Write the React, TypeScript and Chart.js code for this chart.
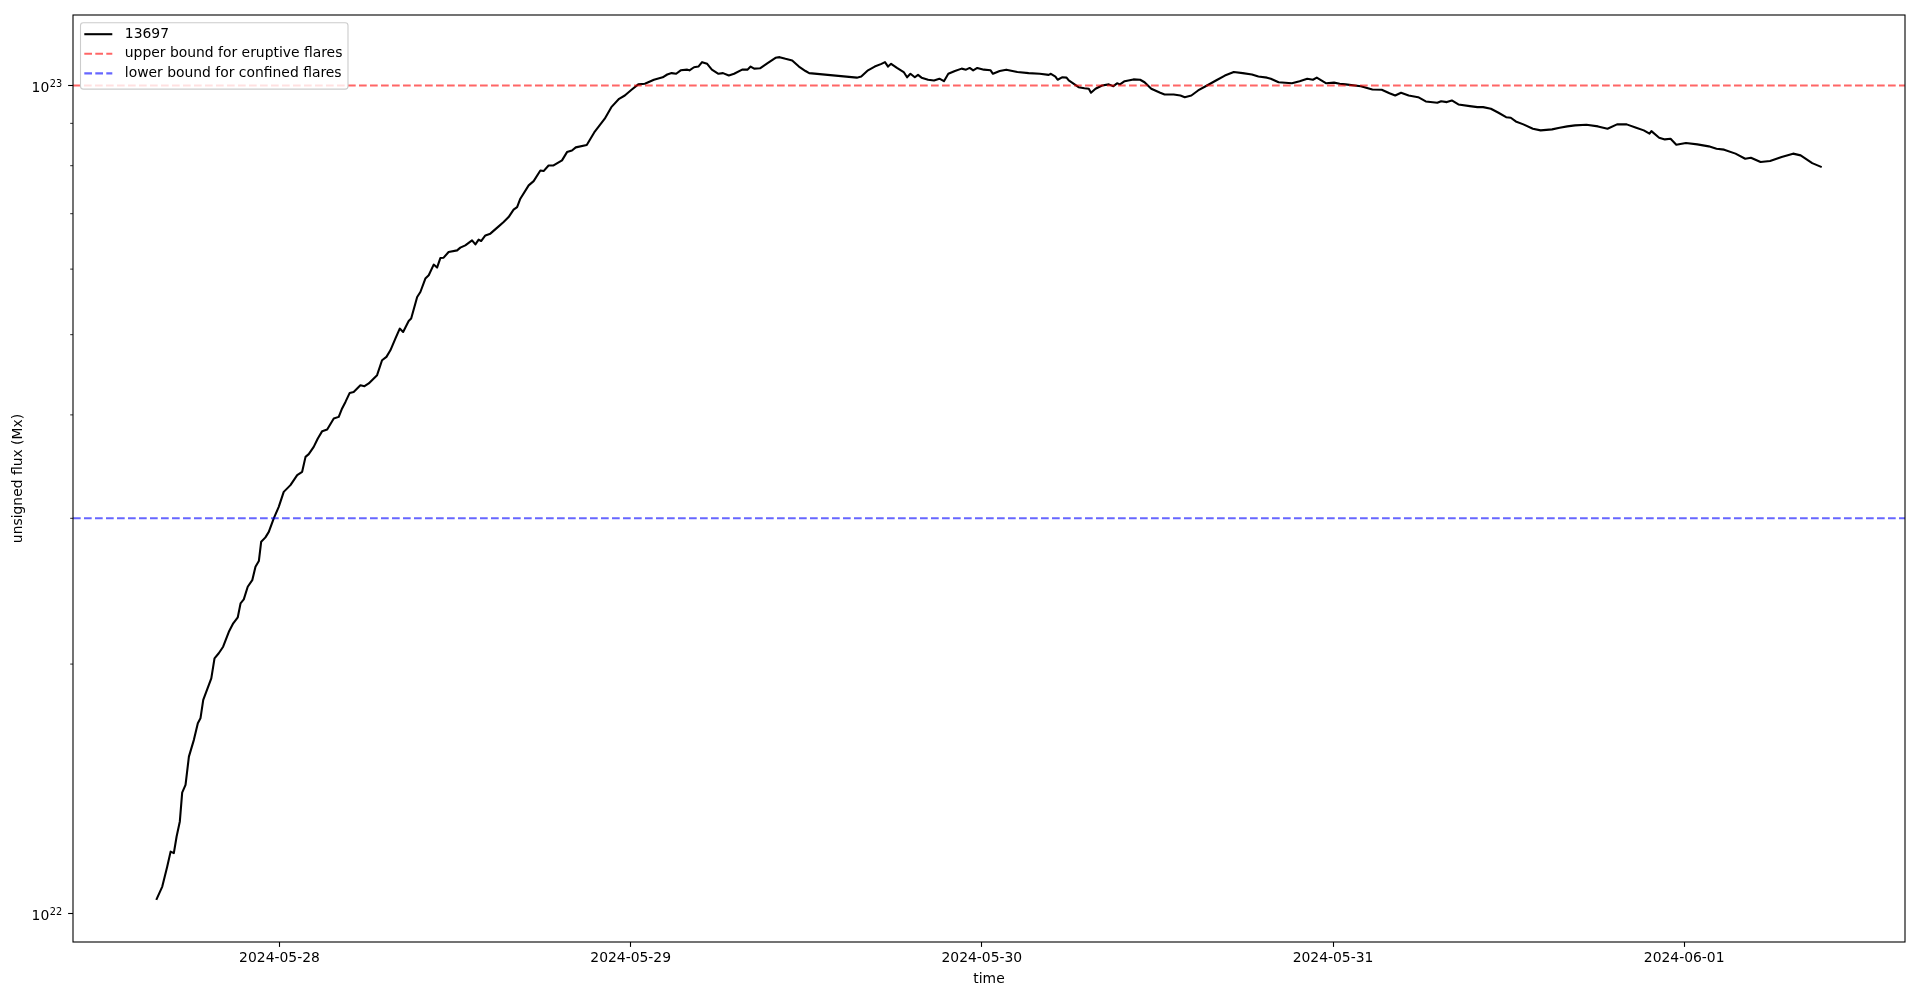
import React, { useEffect, useRef } from 'react';
import { Chart, registerables } from 'chart.js';

Chart.register(...registerables);

const FONT_FAMILY = "'DejaVu Sans', sans-serif";
const FONT_SIZE = 13.9;

// ---- data ----
const seriesLabel = '13697';
const upperLabel = 'upper bound for eruptive flares';
const lowerLabel = 'lower bound for confined flares';
const upperBound = 1e23;
const lowerBound = 3e22;

// time of each sample, hours since 2024-05-28 00:00
const hoursSince0528 = [
  -8.42, -8.01, -7.67, -7.44, -7.22, -7.03, -6.81, -6.65, -6.42, -6.19,
  -5.85, -5.58, -5.40, -5.21, -4.66, -4.44, -4.15, -3.85, -3.46, -3.16,
  -2.85, -2.66, -2.44, -2.17, -1.86, -1.64, -1.41, -1.25, -0.96, -0.73,
  -0.39, -0.05, 0.29, 0.75, 1.21, 1.55, 1.78, 2.00, 2.34, 2.62,
  2.92, 3.26, 3.71, 4.05, 4.28, 4.51, 4.80, 5.07, 5.53, 5.81,
  6.10, 6.67, 7.01, 7.31, 7.58, 7.92, 8.22, 8.45, 8.83, 9.00,
  9.41, 9.63, 9.97, 10.20, 10.54, 10.77, 11.00, 11.22, 11.56, 12.14,
  12.36, 12.70, 13.16, 13.39, 13.61, 13.78, 14.07, 14.41, 14.98, 15.32,
  15.66, 16.00, 16.24, 16.46, 17.03, 17.37, 17.83, 18.05, 18.39, 18.73,
  19.31, 19.65, 19.99, 20.25, 21.00, 21.51, 22.23, 22.68, 23.21, 23.60,
  24.06, 24.52, 24.97, 25.59, 26.19, 26.50, 26.80, 27.11, 27.42, 27.87,
  28.02, 28.33, 28.63, 28.88, 29.23, 29.55, 30.00, 30.31, 30.71, 31.07,
  31.62, 31.98, 32.20, 32.44, 32.84, 33.36, 33.90, 34.18, 34.58, 35.04,
  35.50, 35.95, 36.20, 39.46, 39.76, 40.22, 40.68, 41.14, 41.38, 41.59,
  41.80, 42.20, 42.66, 42.89, 43.12, 43.42, 43.64, 43.88, 44.33, 44.73,
  45.10, 45.41, 45.71, 46.16, 46.62, 46.92, 47.17, 47.41, 47.69, 48.14,
  48.60, 48.76, 49.22, 49.67, 50.43, 51.20, 51.96, 52.57, 52.72, 53.03,
  53.18, 53.48, 53.79, 53.94, 54.24, 54.61, 55.01, 55.31, 55.46, 55.77,
  56.22, 56.68, 56.99, 57.24, 57.44, 57.76, 58.36, 58.82, 59.12, 59.58,
  60.19, 60.49, 61.11, 61.57, 61.87, 62.32, 62.78, 63.39, 64.00, 64.61,
  65.22, 65.83, 66.46, 66.90, 67.49, 67.75, 68.28, 69.19, 69.72, 70.24,
  70.63, 70.89, 71.54, 72.07, 72.46, 72.86, 73.90, 74.69, 75.33, 75.86,
  76.25, 76.65, 77.17, 77.82, 78.34, 79.13, 79.39, 79.78, 80.12, 80.57,
  81.35, 81.87, 82.26, 82.79, 83.31, 83.83, 84.15, 84.49, 85.01, 85.66,
  86.19, 86.97, 87.49, 88.01, 88.54, 89.32, 90.11, 90.76, 91.41, 92.07,
  92.72, 93.24, 93.63, 93.76, 94.29, 94.68, 95.07, 95.46, 96.12, 96.90,
  97.68, 98.21, 98.73, 99.51, 100.17, 100.56, 101.22, 101.87, 102.66, 103.44,
  103.96, 104.75, 105.40,
];

// unsigned flux, in units of 1e22 Mx
const fluxE22 = [
  1.038, 1.077, 1.139, 1.187, 1.182, 1.238, 1.291, 1.399, 1.429, 1.546,
  1.620, 1.697, 1.720, 1.810, 1.922, 2.032, 2.061, 2.099, 2.188, 2.240,
  2.278, 2.368, 2.394, 2.480, 2.526, 2.622, 2.664, 2.811, 2.845, 2.889,
  2.999, 3.097, 3.229, 3.290, 3.383, 3.414, 3.559, 3.586, 3.659, 3.746,
  3.823, 3.841, 3.960, 3.978, 4.072, 4.147, 4.252, 4.264, 4.344, 4.332,
  4.365, 4.467, 4.657, 4.700, 4.787, 4.946, 5.085, 5.037, 5.194, 5.229,
  5.553, 5.630, 5.844, 5.898, 6.076, 6.026, 6.189, 6.194, 6.292, 6.321,
  6.369, 6.410, 6.500, 6.428, 6.513, 6.488, 6.590, 6.622, 6.758, 6.839,
  6.934, 7.079, 7.130, 7.298, 7.573, 7.664, 7.895, 7.881, 8.005, 8.005,
  8.119, 8.308, 8.346, 8.418, 8.476, 8.776, 9.117, 9.415, 9.636, 9.725,
  9.881, 10.03, 10.05, 10.16, 10.23, 10.31, 10.35, 10.33, 10.43, 10.45,
  10.43, 10.52, 10.54, 10.67, 10.62, 10.45, 10.33, 10.35, 10.28, 10.33,
  10.45, 10.45, 10.54, 10.48, 10.49, 10.64, 10.80, 10.82, 10.77, 10.72,
  10.54, 10.41, 10.35, 10.22, 10.25, 10.43, 10.54, 10.62, 10.67, 10.54,
  10.62, 10.50, 10.38, 10.23, 10.33, 10.23, 10.30, 10.22, 10.16, 10.14,
  10.19, 10.12, 10.33, 10.41, 10.48, 10.45, 10.50, 10.43, 10.50, 10.45,
  10.43, 10.33, 10.41, 10.45, 10.38, 10.35, 10.33, 10.30, 10.33, 10.25,
  10.16, 10.23, 10.22, 10.14, 10.06, 9.953, 9.925, 9.908, 9.799, 9.908,
  10.00, 10.03, 9.98, 10.06, 10.03, 10.12, 10.17, 10.16, 10.09, 9.908,
  9.799, 9.752, 9.752, 9.725, 9.680, 9.725, 9.862, 10.00, 10.14, 10.28,
  10.38, 10.35, 10.31, 10.25, 10.22, 10.19, 10.09, 10.06, 10.12, 10.19,
  10.16, 10.22, 10.06, 10.08, 10.05, 10.03, 9.98, 9.889, 9.881, 9.788,
  9.725, 9.799, 9.725, 9.680, 9.565, 9.530, 9.572, 9.548, 9.592, 9.486,
  9.441, 9.415, 9.415, 9.374, 9.269, 9.156, 9.142, 9.048, 8.974, 8.867,
  8.826, 8.850, 8.891, 8.924, 8.949, 8.967, 8.924, 8.867, 8.974, 8.974,
  8.891, 8.826, 8.745, 8.808, 8.648, 8.607, 8.621, 8.481, 8.520, 8.489,
  8.442, 8.388, 8.365, 8.273, 8.157, 8.180, 8.081, 8.104, 8.196, 8.273,
  8.233, 8.058, 7.969,
];

const dateTickHours = [0, 24, 48, 72, 96];
const dateTickLabels = ['2024-05-28', '2024-05-29', '2024-05-30', '2024-05-31', '2024-06-01'];
const yMajorTicks = [1e22, 1e23];
const yMajorBase = ['10', '10'];
const yMajorExponent = ['22', '23'];
const yMinorTicks = [2e22, 3e22, 4e22, 5e22, 6e22, 7e22, 8e22, 9e22];

// ---- axis limits (matplotlib-like 5% margins) ----
const nPts = Math.min(hoursSince0528.length, fluxE22.length);
const xFirst = hoursSince0528[0];
const xLast = hoursSince0528[nPts - 1];
const xSpan = xLast - xFirst;
const X_MIN = xFirst - 0.05 * xSpan;
const X_MAX = xLast + 0.05 * xSpan;
const allY = fluxE22.slice(0, nPts).map((v) => v * 1e22).concat([upperBound, lowerBound]);
const logLo = Math.log10(Math.min(...allY));
const logHi = Math.log10(Math.max(...allY));
const logSpan = logHi - logLo;
const Y_MIN = Math.pow(10, logLo - 0.05 * logSpan);
const Y_MAX = Math.pow(10, logHi + 0.05 * logSpan);

const LW = 2.08;
const DASH = [7.7, 3.3];

const framePlugin = {
  id: 'mplFrame',
  afterDatasetsDraw(chart: any) {
    const { ctx, chartArea: a } = chart;
    const ys = chart.scales.y;
    ctx.save();
    // minor ticks on log axis
    ctx.strokeStyle = '#000';
    ctx.lineWidth = 0.83;
    for (const v of yMinorTicks) {
      const p = ys.getPixelForValue(v);
      if (p < a.top || p > a.bottom) continue;
      ctx.beginPath();
      ctx.moveTo(a.left - 2.8, p);
      ctx.lineTo(a.left, p);
      ctx.stroke();
    }
    // axes frame
    ctx.lineWidth = 1.1;
    ctx.strokeRect(a.left, a.top, a.right - a.left, a.bottom - a.top);

    // y major tick labels in mathtext style: 10 with superscript exponent
    const supSize = FONT_SIZE * 0.7;
    const rightX = a.left - 4.9 - 6;
    ctx.fillStyle = '#000';
    ctx.textBaseline = 'alphabetic';
    ctx.textAlign = 'left';
    yMajorTicks.forEach((v, i) => {
      const p = ys.getPixelForValue(v);
      ctx.font = `${supSize}px ${FONT_FAMILY}`;
      const wSup = ctx.measureText(yMajorExponent[i]).width;
      ctx.font = `${FONT_SIZE}px ${FONT_FAMILY}`;
      const wBase = ctx.measureText(yMajorBase[i]).width;
      const x0 = rightX - wSup - wBase - 0.5;
      ctx.fillText(yMajorBase[i], x0, p + 6.6);
      ctx.font = `${supSize}px ${FONT_FAMILY}`;
      ctx.fillText(yMajorExponent[i], x0 + wBase + 0.5, p + 1.6);
    });
    ctx.restore();
  },
};

const legendPlugin = {
  id: 'mplLegend',
  afterDraw(chart: any) {
    const { ctx, chartArea: a } = chart;
    const ds = chart.data.datasets;
    ctx.save();
    ctx.font = `${FONT_SIZE}px ${FONT_FAMILY}`;
    let maxW = 0;
    for (const d of ds) maxW = Math.max(maxW, ctx.measureText(d.label).width);
    const bx = a.left + 7.5;
    const by = a.top + 7.8;
    const textX = bx + 44.3;
    const bw = textX - bx + maxW + 5.6;
    const bh = 66.3;
    const r = 2.8;
    ctx.beginPath();
    ctx.moveTo(bx + r, by);
    ctx.lineTo(bx + bw - r, by);
    ctx.quadraticCurveTo(bx + bw, by, bx + bw, by + r);
    ctx.lineTo(bx + bw, by + bh - r);
    ctx.quadraticCurveTo(bx + bw, by + bh, bx + bw - r, by + bh);
    ctx.lineTo(bx + r, by + bh);
    ctx.quadraticCurveTo(bx, by + bh, bx, by + bh - r);
    ctx.lineTo(bx, by + r);
    ctx.quadraticCurveTo(bx, by, bx + r, by);
    ctx.closePath();
    ctx.fillStyle = 'rgba(255,255,255,0.8)';
    ctx.fill();
    ctx.strokeStyle = '#cccccc';
    ctx.lineWidth = 1.1;
    ctx.stroke();
    ds.forEach((d: any, i: number) => {
      const cy = by + 11.4 + i * 19.6;
      ctx.beginPath();
      ctx.strokeStyle = d.borderColor;
      ctx.lineWidth = d.borderWidth;
      ctx.setLineDash(d.borderDash || []);
      ctx.moveTo(bx + 3.8, cy);
      ctx.lineTo(bx + 31.8, cy);
      ctx.stroke();
      ctx.setLineDash([]);
      ctx.fillStyle = '#000';
      ctx.textAlign = 'left';
      ctx.textBaseline = 'middle';
      ctx.fillText(d.label, textX, cy);
    });
    ctx.restore();
  },
};

export default function App() {
  const ref = useRef<HTMLCanvasElement>(null);

  useEffect(() => {
    const canvas = ref.current;
    if (!canvas) return;
    Chart.defaults.font.family = FONT_FAMILY;
    Chart.defaults.font.size = FONT_SIZE;
    Chart.defaults.color = '#000';

    const fluxPoints = [];
    for (let i = 0; i < nPts; i++) fluxPoints.push({ x: hoursSince0528[i], y: fluxE22[i] * 1e22 });

    const chart = new Chart(canvas, {
      type: 'line',
      data: {
        datasets: [
          {
            label: seriesLabel,
            data: fluxPoints,
            borderColor: '#000000',
            borderWidth: LW,
            pointRadius: 0,
            tension: 0,
            borderJoinStyle: 'round',
            fill: false,
            order: 1,
          },
          {
            label: upperLabel,
            data: [{ x: X_MIN, y: upperBound }, { x: X_MAX, y: upperBound }],
            borderColor: 'rgba(255,0,0,0.6)',
            borderWidth: LW,
            borderDash: DASH,
            pointRadius: 0,
            fill: false,
            order: 0,
          },
          {
            label: lowerLabel,
            data: [{ x: X_MIN, y: lowerBound }, { x: X_MAX, y: lowerBound }],
            borderColor: 'rgba(0,0,255,0.6)',
            borderWidth: LW,
            borderDash: DASH,
            pointRadius: 0,
            fill: false,
            order: 0,
          },
        ],
      } as any,
      options: {
        animation: false,
        responsive: false,
        devicePixelRatio: 1,
        events: [],
        layout: { padding: { top: 15, right: 15, left: 0, bottom: 0 } },
        plugins: { legend: { display: false }, tooltip: { enabled: false } },
        scales: {
          x: {
            type: 'linear',
            min: X_MIN,
            max: X_MAX,
            afterBuildTicks: (s: any) => {
              s.ticks = dateTickHours.map((v) => ({ value: v }));
            },
            afterFit: (s: any) => {
              s.height = 58;
            },
            ticks: {
              autoSkip: false,
              maxRotation: 0,
              padding: 3,
              color: '#000',
              font: { size: FONT_SIZE, family: FONT_FAMILY },
              callback: (v: any) => {
                const i = dateTickHours.indexOf(Number(v));
                return i >= 0 ? dateTickLabels[i] : '';
              },
            },
            grid: {
              drawOnChartArea: false,
              drawTicks: true,
              tickLength: 4.9,
              tickWidth: 1.1,
              tickColor: '#000',
            },
            border: { display: false },
            title: {
              display: true,
              text: 'time',
              color: '#000',
              font: { size: FONT_SIZE, family: FONT_FAMILY },
              padding: { top: 0, bottom: 12.6 },
            },
          },
          y: {
            type: 'logarithmic',
            min: Y_MIN,
            max: Y_MAX,
            afterBuildTicks: (s: any) => {
              s.ticks = yMajorTicks.map((v) => ({ value: v }));
            },
            afterFit: (s: any) => {
              s.width = 73;
            },
            ticks: {
              autoSkip: false,
              padding: 6,
              color: '#000',
              font: { size: FONT_SIZE, family: FONT_FAMILY },
              callback: () => '',
            },
            grid: {
              drawOnChartArea: false,
              drawTicks: true,
              tickLength: 4.9,
              tickWidth: 1.1,
              tickColor: '#000',
            },
            border: { display: false },
            title: {
              display: true,
              text: 'unsigned flux (Mx)',
              color: '#000',
              font: { size: FONT_SIZE, family: FONT_FAMILY },
              padding: { top: 10.5, bottom: 0 },
            },
          },
        },
      } as any,
      plugins: [framePlugin, legendPlugin],
    });
    return () => chart.destroy();
  }, []);

  return (
    <div style={{ position: 'absolute', left: 0, top: 0, width: 1920, height: 1000, background: '#fff' }}>
      <canvas ref={ref} width={1920} height={1000} style={{ display: 'block', width: 1920, height: 1000 }} />
    </div>
  );
}
